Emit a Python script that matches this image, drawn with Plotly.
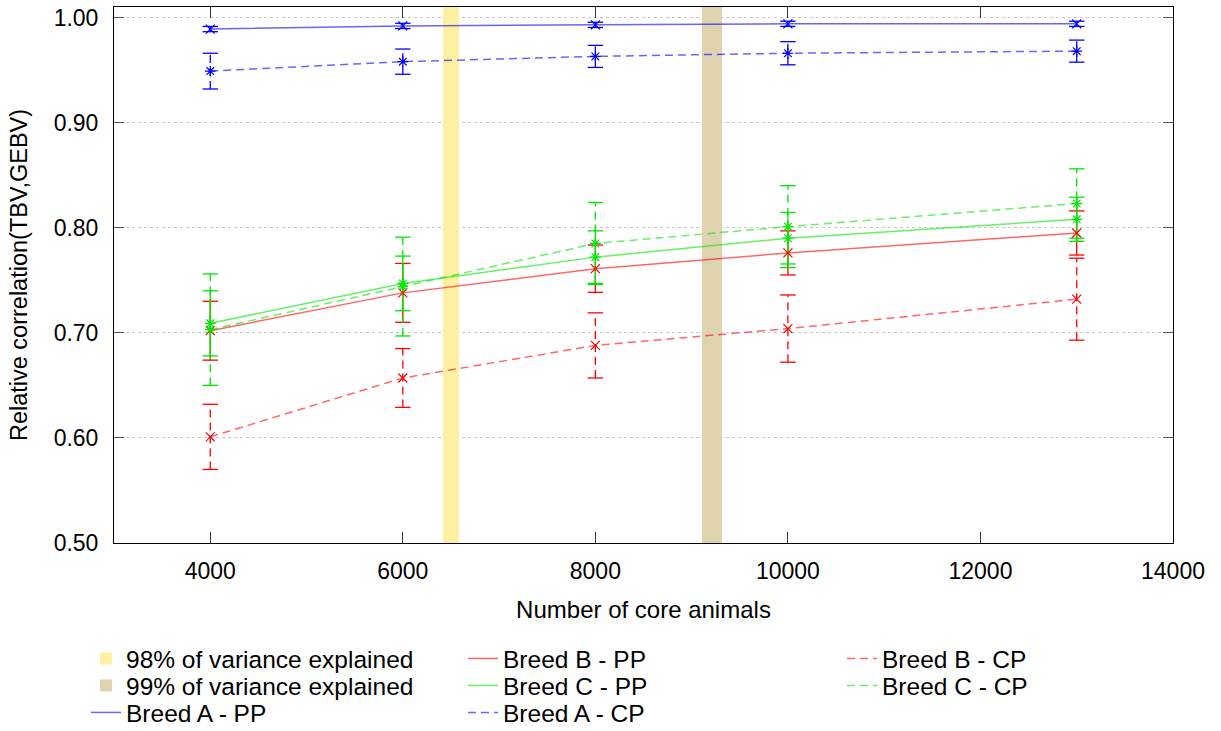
import plotly.graph_objects as go

# ---- data ----
core_animals = [4000, 6000, 8000, 10000, 13000]

breed_a_pp = [0.989, 0.992, 0.993, 0.994, 0.994]
breed_a_pp_err = [0.0025, 0.0025, 0.0025, 0.0025, 0.0025]
breed_b_pp = [0.702, 0.738, 0.761, 0.776, 0.795]
breed_b_pp_err = [0.028, 0.028, 0.0225, 0.021, 0.021]
breed_c_pp = [0.709, 0.747, 0.772, 0.790, 0.808]
breed_c_pp_err = [0.031, 0.026, 0.025, 0.0245, 0.021]
breed_a_cp = [0.949, 0.958, 0.963, 0.966, 0.968]
breed_a_cp_err = [0.017, 0.012, 0.0105, 0.011, 0.0105]
breed_b_cp = [0.601, 0.657, 0.688, 0.704, 0.732]
breed_b_cp_err = [0.031, 0.028, 0.031, 0.032, 0.039]
breed_c_cp = [0.703, 0.744, 0.785, 0.801, 0.823]
breed_c_cp_err = [0.053, 0.047, 0.039, 0.039, 0.033]

band_names = ["98% of variance explained", "99% of variance explained"]
band_centers = [6500, 9210]
band_widths = [160, 210]
band_colors = ["#FFEFA1", "#DED2AF"]

y_range = [0.5, 1.01]
x_range = [3000, 14000]
x_ticks = [4000, 6000, 8000, 10000, 12000, 14000]
y_ticks = [0.5, 0.6, 0.7, 0.8, 0.9, 1.0]

FONT = "Liberation Sans"

W, H = 1221, 731
ML, MR, MT, MB = 114, 48, 7, 188
PW, PH = W - ML - MR, H - MT - MB

# legend grid (pixel anchors of each entry's left edge and top edge)
col_px = [86, 463, 842]
row_px = [636, 663, 690]
legend_slots = {
    "98% of variance explained": (0, 0),
    "99% of variance explained": (0, 1),
    "Breed A - PP": (0, 2),
    "Breed B - PP": (1, 0),
    "Breed C - PP": (1, 1),
    "Breed A - CP": (1, 2),
    "Breed B - CP": (2, 0),
    "Breed C - CP": (2, 1),
}
legend_ids = {}
for i, nm in enumerate(legend_slots):
    legend_ids[nm] = "legend" if i == 0 else "legend%d" % (i + 1)

fig = go.Figure()

# bands
for name, c, w, col in zip(band_names, band_centers, band_widths, band_colors):
    fig.add_trace(go.Bar(
        x=[c], y=[y_range[1] - y_range[0]], base=[y_range[0]], width=[w],
        marker=dict(color=col, line=dict(width=0)), name=name,
        legend=legend_ids[name], hoverinfo="skip"))

series = [
    ("Breed A - PP", breed_a_pp, breed_a_pp_err, (0, 0, 255), "solid", "x-thin-open"),
    ("Breed B - PP", breed_b_pp, breed_b_pp_err, (255, 0, 0), "solid", "x-thin-open"),
    ("Breed C - PP", breed_c_pp, breed_c_pp_err, (0, 230, 0), "solid", "asterisk-open"),
    ("Breed A - CP", breed_a_cp, breed_a_cp_err, (0, 0, 255), "8px,5px", "asterisk-open"),
    ("Breed B - CP", breed_b_cp, breed_b_cp_err, (255, 0, 0), "8px,5px", "x-thin-open"),
    ("Breed C - CP", breed_c_cp, breed_c_cp_err, (0, 230, 0), "8px,5px", "asterisk-open"),
]

# error bars
for name, ys, es, rgb, dash, sym in series:
    col = "rgb(%d,%d,%d)" % rgb
    ex, ey = [], []
    for xv, yv, ev in zip(core_animals, ys, es):
        ex += [xv, xv, None]
        ey += [yv - ev, yv + ev, None]
    fig.add_trace(go.Scatter(x=ex, y=ey, mode="lines", line=dict(color=col, width=1.3, dash=dash),
                             showlegend=False, hoverinfo="skip"))
    cx = core_animals + core_animals
    cy = [yv - ev for yv, ev in zip(ys, es)] + [yv + ev for yv, ev in zip(ys, es)]
    fig.add_trace(go.Scatter(x=cx, y=cy, mode="markers",
                             marker=dict(symbol="line-ew-open", size=11, color=col,
                                         line=dict(color=col, width=1.3)),
                             showlegend=False, hoverinfo="skip"))

# lines
for name, ys, es, rgb, dash, sym in series:
    fig.add_trace(go.Scatter(x=core_animals, y=ys, mode="lines", name=name, legend=legend_ids[name],
                             line=dict(color="rgba(%d,%d,%d,0.6)" % rgb, width=1.5, dash=dash)))

# markers
for name, ys, es, rgb, dash, sym in series:
    col = "rgb(%d,%d,%d)" % rgb
    fig.add_trace(go.Scatter(x=core_animals, y=ys, mode="markers", showlegend=False,
                             marker=dict(symbol=sym, size=9, color=col, line=dict(color=col, width=1.2))))

legends = {}
for nm, (ci, ri) in legend_slots.items():
    legends[legend_ids[nm]] = dict(
        orientation="v", yanchor="top", xanchor="left", bgcolor="rgba(0,0,0,0)",
        font=dict(family=FONT, size=24.5, color="black"), itemwidth=30,
        x=(col_px[ci] - ML) / PW, y=(H - MB - row_px[ri]) / PH)

fig.update_layout(
    width=W, height=H,
    margin=dict(l=ML, r=MR, t=MT, b=MB, autoexpand=False),
    plot_bgcolor="white", paper_bgcolor="white",
    font=dict(family=FONT, size=23, color="black"),
    barmode="overlay", bargap=0,
    showlegend=True,
    **legends,
    xaxis=dict(range=x_range, tickvals=x_ticks, tickformat="d", ticks="inside", ticklen=11,
               tickcolor="#333", tickfont=dict(size=23),
               showline=True, linecolor="black", linewidth=1, mirror="ticks", showgrid=False,
               zeroline=False, ticklabelstandoff=7, automargin=False,
               title=dict(text="Number of core animals", standoff=18, font=dict(size=24))),
    yaxis=dict(range=y_range, tickvals=y_ticks, tickformat=".2f", ticks="inside", ticklen=10,
               tickcolor="#555", tickfont=dict(size=23), showline=True, linecolor="black",
               linewidth=1, mirror="ticks",
               showgrid=True, gridcolor="#c8c8c8", griddash="dot", gridwidth=1, zeroline=False,
               ticklabelstandoff=10, automargin=False,
               title=dict(text="Relative correlation(TBV,GEBV)", standoff=19, font=dict(size=23.5))),
)

fig.write_html("out.html", config={"displayModeBar": False},
               post_script="document.body.style.margin='0';")
